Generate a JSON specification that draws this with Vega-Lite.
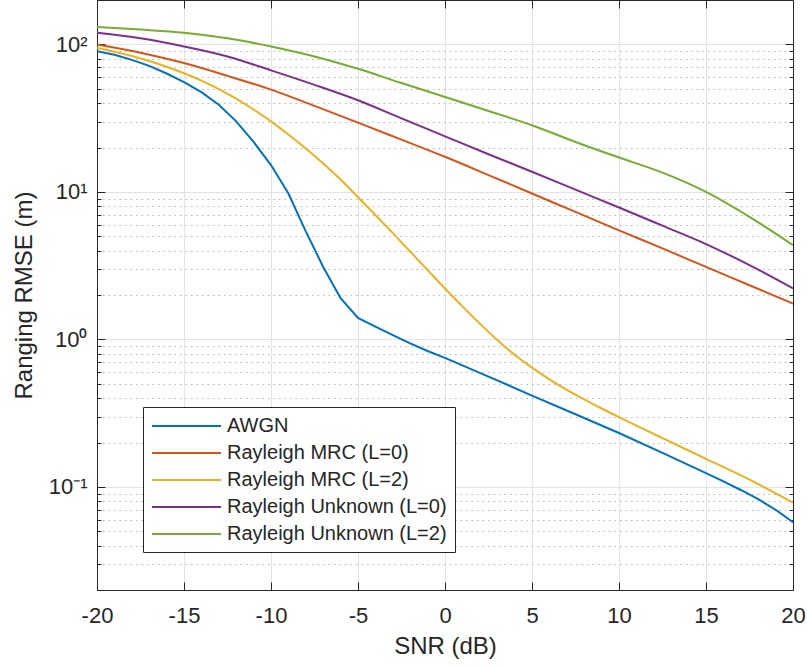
{
  "$schema": "https://vega.github.io/schema/vega-lite/v6.json",
  "autosize": {"type": "none"},
  "width": 696,
  "height": 590,
  "padding": {"left": 97, "top": 0, "right": 14, "bottom": 76},
  "background": "white",
  "config": {
    "view": {"stroke": null},
    "font": "Liberation Sans",
    "axis": {
      "labelFont": "Liberation Sans",
      "titleFont": "Liberation Sans",
      "labelColor": "#262626",
      "titleColor": "#262626",
      "domainColor": "#262626",
      "tickColor": "#262626",
      "titleFontWeight": "normal",
      "labelFontSize": 22,
      "titleFontSize": 24
    }
  },
  "data": {
    "values": [
      {"snr": -20, "rmse": 90, "series": "AWGN"},
      {"snr": -19, "rmse": 85, "series": "AWGN"},
      {"snr": -18, "rmse": 78.5, "series": "AWGN"},
      {"snr": -17, "rmse": 71.5, "series": "AWGN"},
      {"snr": -16, "rmse": 63.5, "series": "AWGN"},
      {"snr": -15, "rmse": 55.5, "series": "AWGN"},
      {"snr": -14, "rmse": 47.5, "series": "AWGN"},
      {"snr": -13, "rmse": 39, "series": "AWGN"},
      {"snr": -12, "rmse": 30.1, "series": "AWGN"},
      {"snr": -11, "rmse": 21.8, "series": "AWGN"},
      {"snr": -10, "rmse": 15.2, "series": "AWGN"},
      {"snr": -9, "rmse": 9.75, "series": "AWGN"},
      {"snr": -8, "rmse": 5.4, "series": "AWGN"},
      {"snr": -7, "rmse": 3.1, "series": "AWGN"},
      {"snr": -6, "rmse": 1.9, "series": "AWGN"},
      {"snr": -5, "rmse": 1.4, "series": "AWGN"},
      {"snr": -4, "rmse": 1.22, "series": "AWGN"},
      {"snr": -3, "rmse": 1.07, "series": "AWGN"},
      {"snr": -2, "rmse": 0.94, "series": "AWGN"},
      {"snr": -1, "rmse": 0.835, "series": "AWGN"},
      {"snr": 0, "rmse": 0.75, "series": "AWGN"},
      {"snr": 2.5, "rmse": 0.56, "series": "AWGN"},
      {"snr": 5, "rmse": 0.416, "series": "AWGN"},
      {"snr": 7.5, "rmse": 0.311, "series": "AWGN"},
      {"snr": 10, "rmse": 0.232, "series": "AWGN"},
      {"snr": 12.5, "rmse": 0.17, "series": "AWGN"},
      {"snr": 15, "rmse": 0.124, "series": "AWGN"},
      {"snr": 16, "rmse": 0.109, "series": "AWGN"},
      {"snr": 17, "rmse": 0.0953, "series": "AWGN"},
      {"snr": 18, "rmse": 0.0826, "series": "AWGN"},
      {"snr": 19, "rmse": 0.07, "series": "AWGN"},
      {"snr": 20, "rmse": 0.0577, "series": "AWGN"},

      {"snr": -20, "rmse": 100, "series": "Rayleigh MRC (L=0)"},
      {"snr": -17.5, "rmse": 87.9, "series": "Rayleigh MRC (L=0)"},
      {"snr": -15, "rmse": 74.7, "series": "Rayleigh MRC (L=0)"},
      {"snr": -12.5, "rmse": 61.2, "series": "Rayleigh MRC (L=0)"},
      {"snr": -10, "rmse": 49.4, "series": "Rayleigh MRC (L=0)"},
      {"snr": -7.5, "rmse": 38.3, "series": "Rayleigh MRC (L=0)"},
      {"snr": -5, "rmse": 29.5, "series": "Rayleigh MRC (L=0)"},
      {"snr": -2.5, "rmse": 22.6, "series": "Rayleigh MRC (L=0)"},
      {"snr": 0, "rmse": 17.3, "series": "Rayleigh MRC (L=0)"},
      {"snr": 2.5, "rmse": 13.0, "series": "Rayleigh MRC (L=0)"},
      {"snr": 5, "rmse": 9.75, "series": "Rayleigh MRC (L=0)"},
      {"snr": 7.5, "rmse": 7.32, "series": "Rayleigh MRC (L=0)"},
      {"snr": 10, "rmse": 5.49, "series": "Rayleigh MRC (L=0)"},
      {"snr": 12.5, "rmse": 4.14, "series": "Rayleigh MRC (L=0)"},
      {"snr": 15, "rmse": 3.1, "series": "Rayleigh MRC (L=0)"},
      {"snr": 17.5, "rmse": 2.33, "series": "Rayleigh MRC (L=0)"},
      {"snr": 20, "rmse": 1.75, "series": "Rayleigh MRC (L=0)"},

      {"snr": -20, "rmse": 94.4, "series": "Rayleigh MRC (L=2)"},
      {"snr": -19, "rmse": 89.1, "series": "Rayleigh MRC (L=2)"},
      {"snr": -18, "rmse": 83.4, "series": "Rayleigh MRC (L=2)"},
      {"snr": -17, "rmse": 77.1, "series": "Rayleigh MRC (L=2)"},
      {"snr": -16, "rmse": 70.5, "series": "Rayleigh MRC (L=2)"},
      {"snr": -15, "rmse": 63.7, "series": "Rayleigh MRC (L=2)"},
      {"snr": -14, "rmse": 56.8, "series": "Rayleigh MRC (L=2)"},
      {"snr": -13, "rmse": 49.8, "series": "Rayleigh MRC (L=2)"},
      {"snr": -12, "rmse": 42.9, "series": "Rayleigh MRC (L=2)"},
      {"snr": -11, "rmse": 36.2, "series": "Rayleigh MRC (L=2)"},
      {"snr": -10, "rmse": 30.1, "series": "Rayleigh MRC (L=2)"},
      {"snr": -9, "rmse": 24.5, "series": "Rayleigh MRC (L=2)"},
      {"snr": -8, "rmse": 19.7, "series": "Rayleigh MRC (L=2)"},
      {"snr": -7, "rmse": 15.6, "series": "Rayleigh MRC (L=2)"},
      {"snr": -6, "rmse": 12.13, "series": "Rayleigh MRC (L=2)"},
      {"snr": -5, "rmse": 9.2, "series": "Rayleigh MRC (L=2)"},
      {"snr": -4, "rmse": 6.97, "series": "Rayleigh MRC (L=2)"},
      {"snr": -3, "rmse": 5.25, "series": "Rayleigh MRC (L=2)"},
      {"snr": -2, "rmse": 3.94, "series": "Rayleigh MRC (L=2)"},
      {"snr": -1, "rmse": 2.95, "series": "Rayleigh MRC (L=2)"},
      {"snr": 0, "rmse": 2.213, "series": "Rayleigh MRC (L=2)"},
      {"snr": 1, "rmse": 1.675, "series": "Rayleigh MRC (L=2)"},
      {"snr": 2, "rmse": 1.279, "series": "Rayleigh MRC (L=2)"},
      {"snr": 3, "rmse": 0.991, "series": "Rayleigh MRC (L=2)"},
      {"snr": 4, "rmse": 0.787, "series": "Rayleigh MRC (L=2)"},
      {"snr": 5, "rmse": 0.643, "series": "Rayleigh MRC (L=2)"},
      {"snr": 6, "rmse": 0.536, "series": "Rayleigh MRC (L=2)"},
      {"snr": 7, "rmse": 0.455, "series": "Rayleigh MRC (L=2)"},
      {"snr": 8, "rmse": 0.392, "series": "Rayleigh MRC (L=2)"},
      {"snr": 9, "rmse": 0.34, "series": "Rayleigh MRC (L=2)"},
      {"snr": 10, "rmse": 0.297, "series": "Rayleigh MRC (L=2)"},
      {"snr": 12.5, "rmse": 0.214, "series": "Rayleigh MRC (L=2)"},
      {"snr": 15, "rmse": 0.155, "series": "Rayleigh MRC (L=2)"},
      {"snr": 17.5, "rmse": 0.112, "series": "Rayleigh MRC (L=2)"},
      {"snr": 20, "rmse": 0.0783, "series": "Rayleigh MRC (L=2)"},

      {"snr": -20, "rmse": 120, "series": "Rayleigh Unknown (L=0)"},
      {"snr": -17.5, "rmse": 110, "series": "Rayleigh Unknown (L=0)"},
      {"snr": -15, "rmse": 96.9, "series": "Rayleigh Unknown (L=0)"},
      {"snr": -12.5, "rmse": 82.9, "series": "Rayleigh Unknown (L=0)"},
      {"snr": -10, "rmse": 66.7, "series": "Rayleigh Unknown (L=0)"},
      {"snr": -7.5, "rmse": 53.2, "series": "Rayleigh Unknown (L=0)"},
      {"snr": -5, "rmse": 41.8, "series": "Rayleigh Unknown (L=0)"},
      {"snr": -2.5, "rmse": 31.5, "series": "Rayleigh Unknown (L=0)"},
      {"snr": 0, "rmse": 23.8, "series": "Rayleigh Unknown (L=0)"},
      {"snr": 2.5, "rmse": 18.0, "series": "Rayleigh Unknown (L=0)"},
      {"snr": 5, "rmse": 13.7, "series": "Rayleigh Unknown (L=0)"},
      {"snr": 7.5, "rmse": 10.35, "series": "Rayleigh Unknown (L=0)"},
      {"snr": 10, "rmse": 7.84, "series": "Rayleigh Unknown (L=0)"},
      {"snr": 12.5, "rmse": 5.9, "series": "Rayleigh Unknown (L=0)"},
      {"snr": 15, "rmse": 4.43, "series": "Rayleigh Unknown (L=0)"},
      {"snr": 17.5, "rmse": 3.19, "series": "Rayleigh Unknown (L=0)"},
      {"snr": 20, "rmse": 2.22, "series": "Rayleigh Unknown (L=0)"},

      {"snr": -20, "rmse": 131, "series": "Rayleigh Unknown (L=2)"},
      {"snr": -17.5, "rmse": 126, "series": "Rayleigh Unknown (L=2)"},
      {"snr": -15, "rmse": 120, "series": "Rayleigh Unknown (L=2)"},
      {"snr": -12.5, "rmse": 110, "series": "Rayleigh Unknown (L=2)"},
      {"snr": -10, "rmse": 96.9, "series": "Rayleigh Unknown (L=2)"},
      {"snr": -7.5, "rmse": 82.9, "series": "Rayleigh Unknown (L=2)"},
      {"snr": -5, "rmse": 68.3, "series": "Rayleigh Unknown (L=2)"},
      {"snr": -2.5, "rmse": 54.7, "series": "Rayleigh Unknown (L=2)"},
      {"snr": 0, "rmse": 44, "series": "Rayleigh Unknown (L=2)"},
      {"snr": 2.5, "rmse": 35.4, "series": "Rayleigh Unknown (L=2)"},
      {"snr": 5, "rmse": 28.3, "series": "Rayleigh Unknown (L=2)"},
      {"snr": 7.5, "rmse": 21.8, "series": "Rayleigh Unknown (L=2)"},
      {"snr": 10, "rmse": 17.1, "series": "Rayleigh Unknown (L=2)"},
      {"snr": 12.5, "rmse": 13.5, "series": "Rayleigh Unknown (L=2)"},
      {"snr": 15, "rmse": 10.0, "series": "Rayleigh Unknown (L=2)"},
      {"snr": 17.5, "rmse": 6.77, "series": "Rayleigh Unknown (L=2)"},
      {"snr": 20, "rmse": 4.36, "series": "Rayleigh Unknown (L=2)"}
    ]
  },
  "layer": [
    {
      "transform": [{"filter": "datum.series != 'AWGN'"}],
      "mark": {"type": "line", "strokeWidth": 2, "clip": true, "interpolate": "monotone"},
      "encoding": {
        "x": {
          "field": "snr", "type": "quantitative",
          "scale": {"domain": [-20, 20], "nice": false, "zero": false},
          "axis": {
            "orient": "bottom",
            "title": "SNR (dB)",
            "values": [-20, -15, -10, -5, 0, 5, 10, 15, 20],
            "labelExpr": "datum.value < 0 ? '-' + abs(datum.value) : '' + datum.value",
            "labelFlush": false,
            "grid": true,
            "gridColor": "#e3e3e3",
            "gridWidth": 1,
            "tickSize": -8,
            "labelPadding": 23,
            "titlePadding": 8,
            "domainWidth": 1
          }
        },
        "y": {
          "field": "rmse", "type": "quantitative",
          "scale": {"type": "log", "domain": [0.02, 200], "nice": false},
          "axis": {
            "orient": "left",
            "title": "Ranging RMSE (m)",
            "values": [0.02, 0.03, 0.04, 0.05, 0.06, 0.07, 0.08, 0.09, 0.1, 0.2, 0.3, 0.4, 0.5, 0.6, 0.7, 0.8, 0.9, 1, 2, 3, 4, 5, 6, 7, 8, 9, 10, 20, 30, 40, 50, 60, 70, 80, 90, 100],
            "labelExpr": "datum.value == 100 ? '10²' : datum.value == 10 ? '10¹' : datum.value == 1 ? '10⁰' : datum.value == 0.1 ? '10⁻¹' : ''",
            "grid": true,
            "gridColor": {"condition": {"test": "indexof([0.1, 1, 10, 100], datum.value) >= 0", "value": "#e3e3e3"}, "value": "#b5b5b5"},
            "gridDash": {"condition": {"test": "indexof([0.1, 1, 10, 100], datum.value) >= 0", "value": []}, "value": [1.5, 4]},
            "tickSize": {"condition": {"test": "indexof([0.1, 1, 10, 100], datum.value) >= 0", "value": -8}, "value": -4},
            "labelPadding": 18,
            "labelFlush": false,
            "labelOverlap": false,
            "titlePadding": 12,
            "domainWidth": 1
          }
        },
        "color": {
          "field": "series", "type": "nominal",
          "scale": {
            "domain": ["AWGN", "Rayleigh MRC (L=0)", "Rayleigh MRC (L=2)", "Rayleigh Unknown (L=0)", "Rayleigh Unknown (L=2)"],
            "range": ["#0072BD", "#D95319", "#EDB120", "#7E2F8E", "#77AC30"]
          },
          "legend": {
            "title": null,
            "orient": "none",
            "legendX": 46,
            "legendY": 407,
            "strokeColor": "#262626",
            "fillColor": "white",
            "padding": 8,
            "symbolType": "M-1,0H5.9",
            "symbolSize": 400,
            "symbolStrokeWidth": 2,
            "labelFont": "Liberation Sans",
            "labelFontSize": 20,
            "labelColor": "#262626",
            "labelOffset": 54,
            "labelLimit": 0,
            "rowPadding": 6
          }
        }
      }
    },
    {
      "transform": [{"filter": "datum.series == 'AWGN'"}],
      "mark": {"type": "line", "strokeWidth": 2, "clip": true},
      "encoding": {
        "x": {"field": "snr", "type": "quantitative", "axis": null},
        "y": {"field": "rmse", "type": "quantitative", "axis": null},
        "color": {"field": "series", "type": "nominal"}
      }
    },
    {
      "mark": {"type": "line", "opacity": 0},
      "encoding": {
        "x": {
          "field": "snr", "type": "quantitative",
          "axis": {
            "orient": "top",
            "title": null,
            "labels": false,
            "grid": false,
            "values": [-20, -15, -10, -5, 0, 5, 10, 15, 20],
            "tickSize": -8,
            "domainWidth": 1
          }
        },
        "y": {
          "field": "rmse", "type": "quantitative",
          "axis": {
            "orient": "right",
            "title": null,
            "labels": false,
            "grid": false,
            "values": [0.02, 0.03, 0.04, 0.05, 0.06, 0.07, 0.08, 0.09, 0.1, 0.2, 0.3, 0.4, 0.5, 0.6, 0.7, 0.8, 0.9, 1, 2, 3, 4, 5, 6, 7, 8, 9, 10, 20, 30, 40, 50, 60, 70, 80, 90, 100],
            "tickSize": {"condition": {"test": "indexof([0.1, 1, 10, 100], datum.value) >= 0", "value": -8}, "value": -4},
            "domainWidth": 1
          }
        },
        "detail": {"field": "series", "type": "nominal"}
      }
    }
  ],
  "resolve": {"axis": {"x": "independent", "y": "independent"}}
}
